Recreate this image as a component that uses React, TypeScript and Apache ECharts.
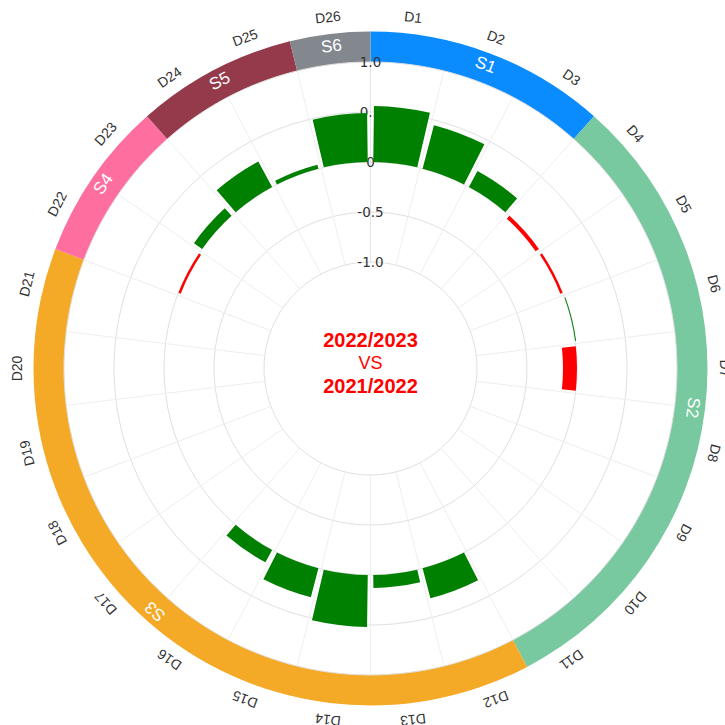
import React, { useEffect, useRef } from "react";
import * as echarts from "echarts";

const categories = [
  "D1", "D2", "D3", "D4", "D5", "D6", "D7", "D8", "D9", "D10", "D11", "D12", "D13",
  "D14", "D15", "D16", "D17", "D18", "D19", "D20", "D21", "D22", "D23", "D24", "D25", "D26",
];
const diffValues = [
  0.56, 0.45, 0.18, -0.04, -0.025, 0.01, -0.14, 0, 0, 0, 0, 0.31, 0.13,
  0.52, 0.3, 0.14, 0, 0, 0, 0, 0, -0.025, 0.1, 0.29, 0.04, 0.49,
];
const sectionNames = ["S1", "S2", "S3", "S4", "S5", "S6"];
const sectionSizes = [3, 8, 10, 2, 2, 1];
const sectionColors = ["#0a8cff", "#78c8a0", "#f5aa27", "#fe6e9f", "#943a4a", "#83888f"];
const radiusTicks = [-1, -0.5, 0, 0.5, 1];
const radiusTickLabels = ["-1.0", "-0.5", "0", "0.5", "1.0"];
const centerLines = ["2022/2023", "VS", "2021/2022"];

const CENTER = [370.5, 368.5];

function midAngles(sizes: number[]): number[] {
  const total = sizes.reduce((a, b) => a + b, 0);
  let cum = 0;
  return sizes.map((s) => {
    const mid = ((cum + s / 2) / total) * 360;
    cum += s;
    return mid;
  });
}

export default function App() {
  const ref = useRef<HTMLDivElement>(null);
  useEffect(() => {
    if (!ref.current) return;
    const chart = echarts.init(ref.current, null, { renderer: "svg" });
    const sectionMids = midAngles(sectionSizes);
    const catMids = midAngles(categories.map(() => 1));
    const option = {
      animation: false,
      backgroundColor: "#ffffff",
      polar: { center: CENTER, radius: [106.5, 306.5] },
      angleAxis: {
        type: "category",
        data: categories,
        startAngle: 90,
        clockwise: true,
        axisLine: { show: false },
        axisTick: { show: false },
        axisLabel: { show: false },
        splitLine: { show: true, lineStyle: { color: "#eeeeee", width: 1 } },
        z: 1.5,
      },
      radiusAxis: {
        type: "value",
        min: -1,
        max: 1,
        interval: 0.5,
        z: 1.5,
        axisLine: { show: true, lineStyle: { color: "#e3e3e3", width: 1 } },
        axisTick: { show: false },
        splitLine: { show: true, lineStyle: { color: "#e0e0e0", width: 1 } },
        axisLabel: {
          margin: 0,
          align: "center",
          verticalAlign: "middle",
          color: "#333333",
          fontSize: 13.5,
          fontFamily: "DejaVu Sans",
          formatter: (v: number) => {
            const i = radiusTicks.findIndex((t) => Math.abs(t - v) < 1e-9);
            return i >= 0 ? radiusTickLabels[i] : String(v);
          },
        },
      },
      graphic: [
        {
          type: "text",
          x: CENTER[0],
          y: 362.5,
          z: 10,
          silent: true,
          style: {
            text: `{b|${centerLines[0]}}\n{n|${centerLines[1]}}\n{b|${centerLines[2]}}`,
            align: "center",
            verticalAlign: "middle",
            rich: {
              b: { fontSize: 20, fontWeight: "bold", fill: "#ff0000", color: "#ff0000", fontFamily: "Liberation Sans", lineHeight: 23, align: "center" },
              n: { fontSize: 18, fill: "#ff0000", color: "#ff0000", fontFamily: "Liberation Sans", lineHeight: 23, align: "center" },
            },
          },
        },
      ],
      series: [
        {
          type: "bar",
          coordinateSystem: "polar",
          data: diffValues,
          barCategoryGap: "11%",
          z: 2,
          itemStyle: {
            color: (p: any) => (p.value >= 0 ? "#008000" : "#ff0000"),
          },
          silent: true,
        },
        {
          type: "pie",
          center: CENTER,
          radius: [306.5, 337],
          startAngle: 90,
          clockwise: true,
          z: 1,
          silent: true,
          avoidLabelOverlap: false,
          emphasis: { disabled: true },
          labelLine: { show: false },
          data: sectionNames.map((name, i) => ({
            name,
            value: sectionSizes[i],
            itemStyle: { color: sectionColors[i] },
            label: {
              show: true,
              position: "inside",
              rotate: -sectionMids[i],
              formatter: "{b}",
              color: "#ffffff",
              fontSize: 17,
              fontFamily: "Liberation Sans",
            },
          })),
        },
        {
          type: "pie",
          center: CENTER,
          radius: [341, 361],
          startAngle: 90,
          clockwise: true,
          z: 1,
          silent: true,
          avoidLabelOverlap: false,
          emphasis: { disabled: true },
          labelLine: { show: false },
          data: categories.map((name, i) => ({
            name,
            value: 1,
            itemStyle: { color: "rgba(0,0,0,0)" },
            label: {
              show: true,
              position: "inside",
              rotate: -catMids[i],
              formatter: "{b}",
              color: "#333333",
              fontSize: 14,
              fontFamily: "Liberation Sans",
            },
          })),
        },
      ],
    };
    chart.setOption(option as any);
    return () => chart.dispose();
  }, []);
  return (
    <div
      ref={ref}
      style={{ position: "fixed", left: 0, top: 0, width: 725, height: 725 }}
    />
  );
}
